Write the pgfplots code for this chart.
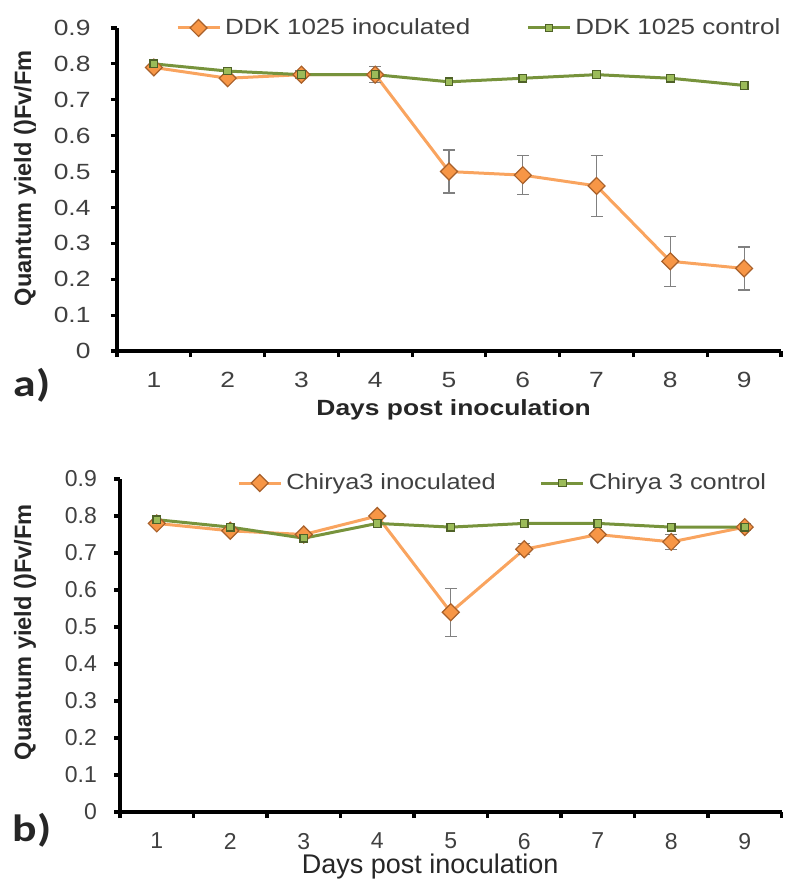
\documentclass[border=0pt]{standalone}
\usepackage{pgfplots}
\pgfplotsset{compat=1.18}
\usepackage{fontspec}
\setmainfont{Liberation Sans}
\newfontfamily\carlito{Carlito}
\definecolor{orline}{HTML}{F9A45F}
\definecolor{orfill}{HTML}{F79646}
\definecolor{ordraw}{HTML}{A8602A}
\definecolor{grline}{HTML}{77933C}
\definecolor{grfill}{HTML}{9BBB59}
\definecolor{grdraw}{HTML}{4F6228}
\definecolor{txt}{HTML}{404040}
\pgfplotsset{
  panel/.style={
    scale only axis,
    axis x line=bottom, axis y line=left,
    axis line style={-, line width=1.6pt, black},
    xmin=0.5, xmax=9.5, ymin=0, ymax=0.9,
    xtick={1,...,9},
    minor xtick={0.5,1.5,...,9.5},
    major x tick style={draw=none},
    minor tick length=3pt,
    major tick length=3pt,
    tick align=outside,
    tick style={line width=1.6pt, black},
    ytick={0,0.1,...,0.9},
    yticklabels={0,0.1,0.2,0.3,0.4,0.5,0.6,0.7,0.8,0.9},
    xticklabels={1,2,3,4,5,6,7,8,9},
    xticklabel style={yshift=-4pt},
    yticklabel style={xshift=-5pt},
    legend columns=2,
    legend cell align=left,
    legend style={draw=none, fill=none, text=txt},
    legend image code/.code={\draw[mark repeat=2,mark phase=2] plot coordinates {(0pt,0pt) (10.5pt,0pt) (21pt,0pt)};},
    clip=false,
  },
  inoc/.style={color=orline, line width=1.5pt, mark=square*,
    mark options={rotate=45, fill=orfill, draw=ordraw, line width=0.6pt, scale=1, mark size=3pt},
    error bars/.cd, y dir=both, y explicit,
    error bar style={gray, line width=0.6pt},
    error mark options={rotate=90, gray, mark size=3pt, line width=0.6pt}},
  ctrl/.style={color=grline, line width=1.5pt, mark=square*,
    mark options={fill=grfill, draw=grdraw, line width=0.6pt, mark size=1.9pt}},
}
\begin{document}
\begin{tikzpicture}
\useasboundingbox (0,0) rectangle (396pt,-440.5pt);
% Panel a
\begin{axis}[panel, at={(58.5pt,-175.5pt)}, anchor=origin,
  width=332pt, height=161.5pt,
  tick label style={font=\fontsize{11}{13}\selectfont, text=txt, xscale=1.2},
  legend style={at={(0.547,1.0)}, anchor=center, font=\fontsize{11}{13}\selectfont,
    /tikz/every even column/.append style={column sep=26pt}},
  xlabel={\scalebox{1.2}[1]{\bfseries Days post inoculation}},
  xlabel style={at={(axis description cs:0.507,-0.183)}, anchor=center, font=\fontsize{11}{13}\selectfont, text=black!85},
  ylabel={\bfseries Quantum yield ()Fv/Fm},
  ylabel style={at={(axis description cs:-0.1386,0.535)}, anchor=center, rotate=0, font=\fontsize{11.8}{13}\selectfont, text=black!85},
]
\addplot+[inoc] coordinates {
 (1,0.79) +- (0,0.005)
 (2,0.76) +- (0,0.005)
 (3,0.77) +- (0,0.01)
 (4,0.77) +- (0,0.022)
 (5,0.50) +- (0,0.06)
 (6,0.49) +- (0,0.055)
 (7,0.46) +- (0,0.085)
 (8,0.25) +- (0,0.07)
 (9,0.23) +- (0,0.06)
};
\addlegendentry{\scalebox{1.18}[1]{DDK 1025 inoculated}}
\addplot+[ctrl] coordinates {
 (1,0.80) (2,0.78) (3,0.77) (4,0.77) (5,0.75) (6,0.76) (7,0.77) (8,0.76) (9,0.74)
};
\addlegendentry{\scalebox{1.18}[1]{DDK 1025 control}}
\end{axis}
\node[font=\carlito\bfseries\fontsize{19}{22}\selectfont, text=black!85, xscale=1.2] at (16pt,-192.5pt) {a)};
% Panel b
\begin{axis}[panel, at={(60pt,-406pt)}, anchor=origin,
  width=330.75pt, height=166.5pt,
  tick label style={font=\fontsize{11.5}{13}\selectfont, text=txt},
  legend style={at={(0.58,0.988)}, anchor=center, font=\fontsize{11}{13}\selectfont,
    /tikz/every even column/.append style={column sep=20pt}},
  xlabel={Days post inoculation},
  xlabel style={at={(axis description cs:0.469,-0.165)}, anchor=center, font=\fontsize{13.5}{15}\selectfont, text=black!85},
  ylabel={\bfseries Quantum yield ()Fv/Fm},
  ylabel style={at={(axis description cs:-0.1436,0.54)}, anchor=center, rotate=0, font=\fontsize{11.8}{13}\selectfont, text=black!85},
]
\addplot+[inoc] coordinates {
 (1,0.78) +- (0,0.005)
 (2,0.76) +- (0,0.005)
 (3,0.75) +- (0,0.005)
 (4,0.80) +- (0,0.005)
 (5,0.54) +- (0,0.065)
 (6,0.71) +- (0,0.015)
 (7,0.75) +- (0,0.008)
 (8,0.73) +- (0,0.02)
 (9,0.77) +- (0,0.01)
};
\addlegendentry{\scalebox{1.15}[1]{Chirya3 inoculated}}
\addplot+[ctrl] coordinates {
 (1,0.79) (2,0.77) (3,0.74) (4,0.78) (5,0.77) (6,0.78) (7,0.78) (8,0.77) (9,0.77)
};
\addlegendentry{\scalebox{1.15}[1]{Chirya 3 control}}
\end{axis}
\node[font=\carlito\bfseries\fontsize{19}{22}\selectfont, text=black!85, xscale=1.2] at (16pt,-415pt) {b)};
\end{tikzpicture}
\end{document}
